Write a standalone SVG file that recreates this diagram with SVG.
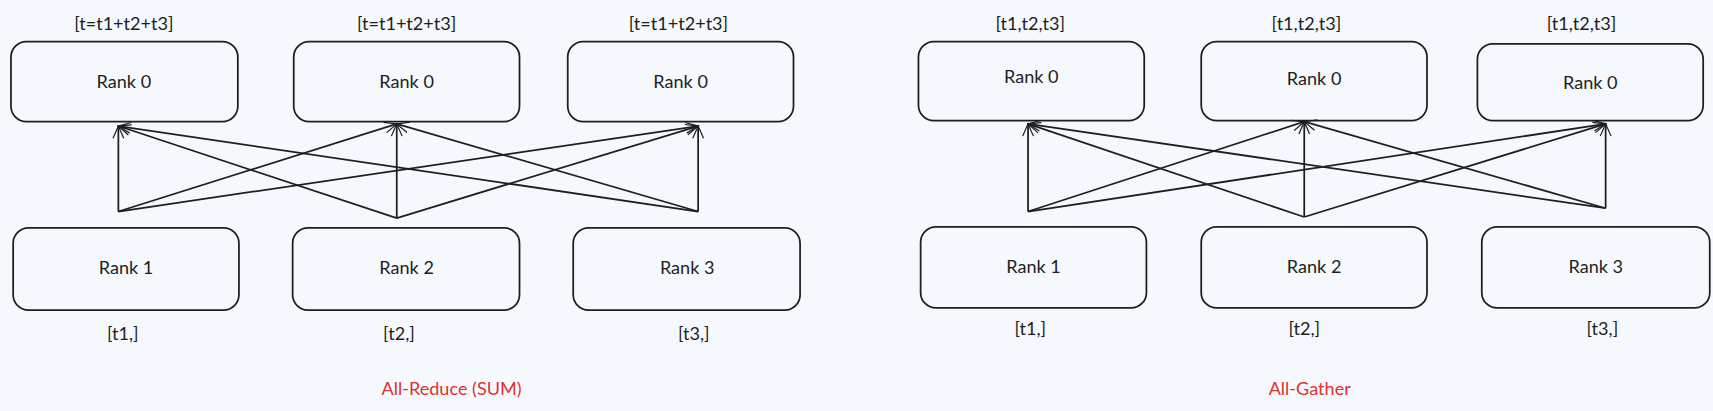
<svg xmlns="http://www.w3.org/2000/svg" width="1713" height="411" viewBox="0 0 1713 411">
<style>
.b{fill:none;stroke:#1e1e1e;stroke-width:1.6}
.t{font-family:Lato,"Liberation Sans",sans-serif;font-size:16.5px;fill:#1e1e1e;text-anchor:middle}
.r{font-family:Lato,"Liberation Sans",sans-serif;font-size:16.5px;fill:#e03131;text-anchor:middle}
.c line{stroke:#1e1e1e;stroke-width:1.6;marker-end:url(#a)}
</style>
<defs><marker id="a" viewBox="0 0 20 20" refX="18" refY="10" markerWidth="14" markerHeight="14" orient="auto" markerUnits="userSpaceOnUse"><path d="M2 3L18 10L2 17" fill="none" stroke="#1e1e1e" stroke-width="1.6"/></marker></defs>
<rect width="1713" height="411" fill="#f5f9fd"/>
<g transform="scale(1.096)">
<g id="l0a"><rect class="b" x="10" y="38" width="207" height="73" rx="14"/><text class="t" x="113" y="80">Rank 0</text><text class="t" x="113" y="27">[t=t1+t2+t3]</text></g>
<g id="l0b"><rect class="b" x="268" y="38" width="206" height="73" rx="14"/><text class="t" x="371" y="80">Rank 0</text><text class="t" x="371" y="27">[t=t1+t2+t3]</text></g>
<g id="l0c"><rect class="b" x="518" y="38" width="206" height="73" rx="14"/><text class="t" x="621" y="80">Rank 0</text><text class="t" x="619" y="27">[t=t1+t2+t3]</text></g>
<g id="l1"><rect class="b" x="12" y="208" width="206" height="75" rx="14"/><text class="t" x="115" y="250">Rank 1</text><text class="t" x="112" y="310">[t1,]</text></g>
<g id="l2"><rect class="b" x="267" y="208" width="207" height="75" rx="14"/><text class="t" x="371" y="250">Rank 2</text><text class="t" x="364" y="310">[t2,]</text></g>
<g id="l3"><rect class="b" x="523" y="208" width="207" height="75" rx="14"/><text class="t" x="627" y="250">Rank 3</text><text class="t" x="633" y="310">[t3,]</text></g>
<text class="r" x="412" y="360">All-Reduce (SUM)</text>
<g id="r0a"><rect class="b" x="838" y="38" width="206" height="72" rx="14"/><text class="t" x="941" y="76">Rank 0</text><text class="t" x="940" y="27">[t1,t2,t3]</text></g>
<g id="r0b"><rect class="b" x="1096" y="38" width="206" height="72" rx="14"/><text class="t" x="1199" y="78">Rank 0</text><text class="t" x="1192" y="27">[t1,t2,t3]</text></g>
<g id="r0c"><rect class="b" x="1348" y="40" width="206" height="70" rx="14"/><text class="t" x="1451" y="81">Rank 0</text><text class="t" x="1443" y="27">[t1,t2,t3]</text></g>
<g id="r1"><rect class="b" x="840" y="207" width="206" height="74" rx="14"/><text class="t" x="943" y="249">Rank 1</text><text class="t" x="940" y="306">[t1,]</text></g>
<g id="r2"><rect class="b" x="1096" y="207" width="206" height="74" rx="14"/><text class="t" x="1199" y="249">Rank 2</text><text class="t" x="1190" y="306">[t2,]</text></g>
<g id="r3"><rect class="b" x="1352" y="207" width="208" height="74" rx="14"/><text class="t" x="1456" y="249">Rank 3</text><text class="t" x="1462" y="306">[t3,]</text></g>
<text class="r" x="1195" y="360">All-Gather</text>
<g class="c" id="connectors">
<line x1="108" y1="193" x2="108" y2="115"/><line x1="108" y1="193" x2="362" y2="113"/><line x1="108" y1="193" x2="637" y2="115"/>
<line x1="362" y1="199" x2="108" y2="115"/><line x1="362" y1="199" x2="362" y2="113"/><line x1="362" y1="199" x2="637" y2="115"/>
<line x1="637" y1="193" x2="108" y2="115"/><line x1="637" y1="193" x2="362" y2="113"/><line x1="637" y1="193" x2="637" y2="115"/>
<line x1="938" y1="193" x2="938" y2="113"/><line x1="938" y1="193" x2="1190" y2="111"/><line x1="938" y1="193" x2="1465" y2="113"/>
<line x1="1190" y1="198" x2="938" y2="113"/><line x1="1190" y1="198" x2="1190" y2="111"/><line x1="1190" y1="198" x2="1465" y2="113"/>
<line x1="1465" y1="190" x2="938" y2="113"/><line x1="1465" y1="190" x2="1190" y2="111"/><line x1="1465" y1="190" x2="1465" y2="113"/>
</g>
</g>
</svg>
